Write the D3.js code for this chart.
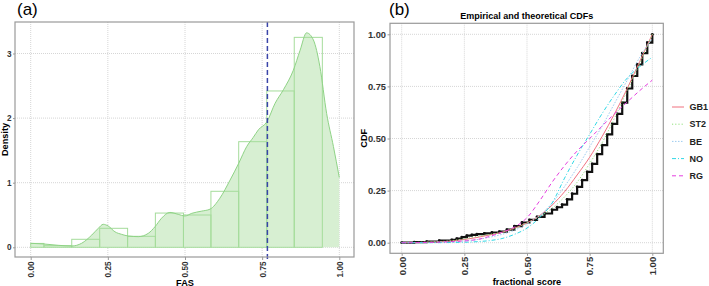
<!DOCTYPE html>
<html>
<head>
<meta charset="utf-8">
<script src="https://cdn.jsdelivr.net/npm/d3@7.9.0/dist/d3.min.js"></script>
<style>
  body { margin: 0; background: #fff; }
  text { font-family: "Liberation Sans", Arial, sans-serif; }
</style>
</head>
<body>
<script>
// ---- panel (a): histogram + density of FAS ----
const binEdges = [0.000, 0.043, 0.133, 0.2235, 0.314, 0.404, 0.495, 0.584, 0.674, 0.765, 0.854, 0.945];
const binHeights = [0.06, 0.025, 0.124, 0.294, 0.17, 0.53, 0.50, 0.867, 1.635, 2.42, 3.25];

const densX = [0.000, 0.044, 0.089, 0.133, 0.165, 0.198, 0.219, 0.235, 0.251, 0.273, 0.295, 0.316, 0.349, 0.381, 0.403, 0.424, 0.451, 0.478, 0.500, 0.522, 0.554, 0.581, 0.613, 0.646, 0.674, 0.700, 0.721, 0.738, 0.765, 0.792, 0.819, 0.851, 0.873, 0.894, 0.916, 0.937, 0.959, 0.981, 1.000];
const densY = [0.062, 0.051, 0.031, 0.020, 0.062, 0.19, 0.294, 0.356, 0.33, 0.24, 0.20, 0.175, 0.165, 0.216, 0.32, 0.45, 0.54, 0.51, 0.485, 0.526, 0.56, 0.59, 0.76, 1.04, 1.30, 1.56, 1.70, 1.82, 1.94, 2.23, 2.44, 2.74, 3.05, 3.32, 3.21, 2.80, 2.07, 1.56, 1.08];

const fasCutoff = 0.767;
const xTicksA = [0, 0.25, 0.5, 0.75, 1];
const yTicksA = [0, 1, 2, 3];

// ---- panel (b): empirical and theoretical CDFs ----
const ecdfX = [0.00, 0.05, 0.10, 0.15, 0.20, 0.22, 0.24, 0.26, 0.28, 0.30, 0.33, 0.36, 0.39, 0.42, 0.45, 0.48, 0.51, 0.54, 0.57, 0.60, 0.62, 0.64, 0.66, 0.68, 0.70, 0.72, 0.74, 0.76, 0.78, 0.80, 0.82, 0.84, 0.86, 0.88, 0.90, 0.92, 0.94, 0.96, 0.98, 1.00];
const ecdfY = [0.000, 0.003, 0.005, 0.010, 0.014, 0.020, 0.027, 0.034, 0.038, 0.041, 0.045, 0.049, 0.053, 0.063, 0.080, 0.097, 0.110, 0.124, 0.140, 0.158, 0.170, 0.183, 0.208, 0.235, 0.268, 0.300, 0.340, 0.378, 0.425, 0.468, 0.520, 0.570, 0.618, 0.672, 0.740, 0.800, 0.855, 0.910, 0.960, 1.000];

const fitX = [0.00, 0.10, 0.20, 0.30, 0.35, 0.40, 0.45, 0.50, 0.55, 0.60, 0.65, 0.70, 0.75, 0.80, 0.85, 0.90, 0.95, 1.00];
const cdfGB1 = [0, 0.002, 0.008, 0.025, 0.037, 0.050, 0.070, 0.095, 0.130, 0.180, 0.245, 0.325, 0.410, 0.510, 0.620, 0.740, 0.870, 1.000];
const cdfST2 = [0, 0.003, 0.010, 0.030, 0.040, 0.050, 0.068, 0.095, 0.125, 0.165, 0.220, 0.290, 0.380, 0.480, 0.600, 0.730, 0.860, 1.000];
const cdfBE  = [0, 0.001, 0.005, 0.015, 0.026, 0.040, 0.060, 0.090, 0.130, 0.190, 0.270, 0.360, 0.460, 0.560, 0.670, 0.780, 0.890, 0.980];
const cdfNO  = [0, 0.000, 0.001, 0.005, 0.010, 0.020, 0.040, 0.070, 0.120, 0.190, 0.310, 0.420, 0.520, 0.620, 0.710, 0.790, 0.845, 0.890];
const cdfRG  = [0, 0.001, 0.005, 0.015, 0.030, 0.050, 0.075, 0.120, 0.200, 0.290, 0.370, 0.440, 0.500, 0.560, 0.620, 0.675, 0.730, 0.780];

const fitNames = ["GB1", "ST2", "BE", "NO", "RG"];
const fitValues = [cdfGB1, cdfST2, cdfBE, cdfNO, cdfRG];
const fitColors = ["#f0717f", "#8fe07a", "#9ccbf0", "#2fd8e6", "#e53fe0"];
const fitDash = [null, "1.2,2", "1.5,1.5", "4,2,1,2", "4,3"];
const xTicksB = [0, 0.25, 0.5, 0.75, 1];
const yTicksB = [0, 0.25, 0.5, 0.75, 1];

const W = 709, H = 286;
const svg = d3.select("body").append("svg")
    .attr("width", W)
    .attr("height", H);

const gridColor = "#d6d6d6";
const borderColor = "#9a9a9a";
const fmt2 = d3.format(".2f");

function styleAxis(g) {
    g.select(".domain").remove();
    g.selectAll(".tick line").attr("stroke", borderColor);
    g.selectAll(".tick text")
        .attr("fill", "#333")
        .attr("font-weight", "bold");
}

// ================= Panel (a) =================
const xA = d3.scaleLinear().domain([0, 1]).range([30.7, 339.3]);
const yA = d3.scaleLinear().domain([0, 3]).range([247.3, 53.5]);
const frameA = {x: 15, y: 22, w: 339, h: 235};

const gA = svg.append("g");

// grid
gA.selectAll(".vgrid").data(xTicksA).enter().append("line")
    .attr("x1", d => xA(d)).attr("x2", d => xA(d))
    .attr("y1", frameA.y).attr("y2", frameA.y + frameA.h)
    .attr("stroke", gridColor).attr("stroke-dasharray", "1,1");
gA.selectAll(".hgrid").data(yTicksA).enter().append("line")
    .attr("x1", frameA.x).attr("x2", frameA.x + frameA.w)
    .attr("y1", d => yA(d)).attr("y2", d => yA(d))
    .attr("stroke", gridColor).attr("stroke-dasharray", "1,1");

// density area
const dens = densX.map((x, i) => ({x: x, y: densY[i]}));
const area = d3.area()
    .x(d => xA(d.x))
    .y0(yA(0))
    .y1(d => yA(d.y))
    .curve(d3.curveMonotoneX);
const line = d3.line()
    .x(d => xA(d.x))
    .y(d => yA(d.y))
    .curve(d3.curveMonotoneX);

gA.append("path")
    .datum(dens)
    .attr("d", area)
    .attr("fill", "#d7efd2");

// histogram outlines
const bins = binHeights.map((h, i) => ({x0: binEdges[i], x1: binEdges[i + 1], h: h}));
gA.selectAll(".bar").data(bins).enter().append("rect")
    .attr("x", d => xA(d.x0))
    .attr("y", d => yA(d.h))
    .attr("width", d => xA(d.x1) - xA(d.x0))
    .attr("height", d => yA(0) - yA(d.h))
    .attr("fill", "none")
    .attr("stroke", "#a5dc9b")
    .attr("stroke-width", 1);

gA.append("path")
    .datum(dens)
    .attr("d", line)
    .attr("fill", "none")
    .attr("stroke", "#8fd386")
    .attr("stroke-width", 1);

// cutoff line
gA.append("line")
    .attr("x1", xA(fasCutoff)).attr("x2", xA(fasCutoff))
    .attr("y1", frameA.y).attr("y2", frameA.y + frameA.h + 3)
    .attr("stroke", "#3a44a8")
    .attr("stroke-width", 1.5)
    .attr("stroke-dasharray", "5,3");

gA.append("rect")
    .attr("x", frameA.x).attr("y", frameA.y)
    .attr("width", frameA.w).attr("height", frameA.h)
    .attr("fill", "none").attr("stroke", borderColor).attr("stroke-width", 1.2);

// axes
gA.append("g")
    .attr("transform", `translate(0,${frameA.y + frameA.h})`)
    .call(d3.axisBottom(xA).tickValues(xTicksA).tickFormat(fmt2).tickSize(3))
    .call(styleAxis)
    .call(g => g.selectAll(".tick text")
        .attr("font-size", 8.2)
        .attr("transform", "rotate(-90)")
        .attr("text-anchor", "end")
        .attr("x", -4.5).attr("y", 0).attr("dy", "0.35em"));

gA.append("g")
    .attr("transform", `translate(${frameA.x},0)`)
    .call(d3.axisLeft(yA).tickValues(yTicksA).tickFormat(d3.format("d")).tickSize(2).tickPadding(1.5))
    .call(styleAxis)
    .call(g => g.selectAll(".tick text").attr("font-size", 8.2));

gA.append("text")
    .attr("x", xA(0.5)).attr("y", 285.5)
    .attr("text-anchor", "middle")
    .attr("font-size", 9.2).attr("font-weight", "bold")
    .text("FAS");

gA.append("text")
    .attr("transform", `translate(7.5,${frameA.y + frameA.h / 2}) rotate(-90)`)
    .attr("text-anchor", "middle")
    .attr("font-size", 9.2).attr("font-weight", "bold")
    .text("Density");

svg.append("text")
    .attr("x", 17).attr("y", 15)
    .attr("font-size", 17)
    .text("(a)");

// ================= Panel (b) =================
const xB = d3.scaleLinear().domain([0, 1]).range([401.7, 652.3]);
const yB = d3.scaleLinear().domain([0, 1]).range([242.7, 34.3]);
const frameB = {x: 390, y: 23.3, w: 273.3, h: 230};

const gB = svg.append("g");

gB.selectAll(".vgrid").data(xTicksB).enter().append("line")
    .attr("x1", d => xB(d)).attr("x2", d => xB(d))
    .attr("y1", frameB.y).attr("y2", frameB.y + frameB.h)
    .attr("stroke", gridColor).attr("stroke-dasharray", "1,1");
gB.selectAll(".hgrid").data(yTicksB).enter().append("line")
    .attr("x1", frameB.x).attr("x2", frameB.x + frameB.w)
    .attr("y1", d => yB(d)).attr("y2", d => yB(d))
    .attr("stroke", gridColor).attr("stroke-dasharray", "1,1");

// empirical cdf
const ecdf = ecdfX.map((x, i) => ({x: x, y: ecdfY[i]}));
gB.append("path")
    .datum(ecdf)
    .attr("d", d3.line().x(d => xB(d.x)).y(d => yB(d.y)).curve(d3.curveStepAfter))
    .attr("fill", "none")
    .attr("stroke", "#111")
    .attr("stroke-width", 2.2);
gB.selectAll(".ept").data(ecdf).enter().append("circle")
    .attr("cx", d => xB(d.x))
    .attr("cy", d => yB(d.y))
    .attr("r", 1.4)
    .attr("fill", "#111");

// fitted cdfs
const fitLine = d3.line().x(d => xB(d.x)).y(d => yB(d.y)).curve(d3.curveMonotoneX);
fitNames.forEach((name, k) => {
    const pts = fitX.map((x, i) => ({x: x, y: fitValues[k][i]}));
    gB.append("path")
        .datum(pts)
        .attr("d", fitLine)
        .attr("fill", "none")
        .attr("stroke", fitColors[k])
        .attr("stroke-width", 1)
        .attr("stroke-dasharray", fitDash[k]);
});

gB.append("rect")
    .attr("x", frameB.x).attr("y", frameB.y)
    .attr("width", frameB.w).attr("height", frameB.h)
    .attr("fill", "none").attr("stroke", borderColor).attr("stroke-width", 1.2);

gB.append("g")
    .attr("transform", `translate(0,${frameB.y + frameB.h})`)
    .call(d3.axisBottom(xB).tickValues(xTicksB).tickFormat(fmt2).tickSize(2.5))
    .call(styleAxis)
    .call(g => g.selectAll(".tick text")
        .attr("font-size", 9.5)
        .attr("transform", "rotate(-90)")
        .attr("text-anchor", "end")
        .attr("x", -3.5).attr("y", 0).attr("dy", "0.35em"));

gB.append("g")
    .attr("transform", `translate(${frameB.x},0)`)
    .call(d3.axisLeft(yB).tickValues(yTicksB).tickFormat(fmt2).tickSize(2.5).tickPadding(1.5))
    .call(styleAxis)
    .call(g => g.selectAll(".tick text").attr("font-size", 9.3));

gB.append("text")
    .attr("x", xB(0.5)).attr("y", 285)
    .attr("text-anchor", "middle")
    .attr("font-size", 9.2).attr("font-weight", "bold")
    .text("fractional score");

gB.append("text")
    .attr("transform", `translate(366.5,${frameB.y + frameB.h / 2}) rotate(-90)`)
    .attr("text-anchor", "middle")
    .attr("font-size", 9.2).attr("font-weight", "bold")
    .text("CDF");

gB.append("text")
    .attr("x", (frameB.x + frameB.x + frameB.w) / 2).attr("y", 18.5)
    .attr("text-anchor", "middle")
    .attr("font-size", 9).attr("font-weight", "bold")
    .text("Empirical and theoretical CDFs");

svg.append("text")
    .attr("x", 389).attr("y", 15)
    .attr("font-size", 17)
    .text("(b)");

// legend
const legend = svg.append("g").attr("transform", "translate(672,107)");
fitNames.forEach((name, k) => {
    const row = legend.append("g").attr("transform", `translate(0,${k * 17.2})`);
    row.append("line")
        .attr("x1", 0).attr("x2", 12)
        .attr("stroke", fitColors[k])
        .attr("stroke-width", 1)
        .attr("stroke-dasharray", fitDash[k]);
    row.append("text")
        .attr("x", 17.5).attr("dy", "0.35em")
        .attr("font-size", 9).attr("font-weight", "bold")
        .attr("fill", "#222")
        .text(name);
});
</script>
</body>
</html>
